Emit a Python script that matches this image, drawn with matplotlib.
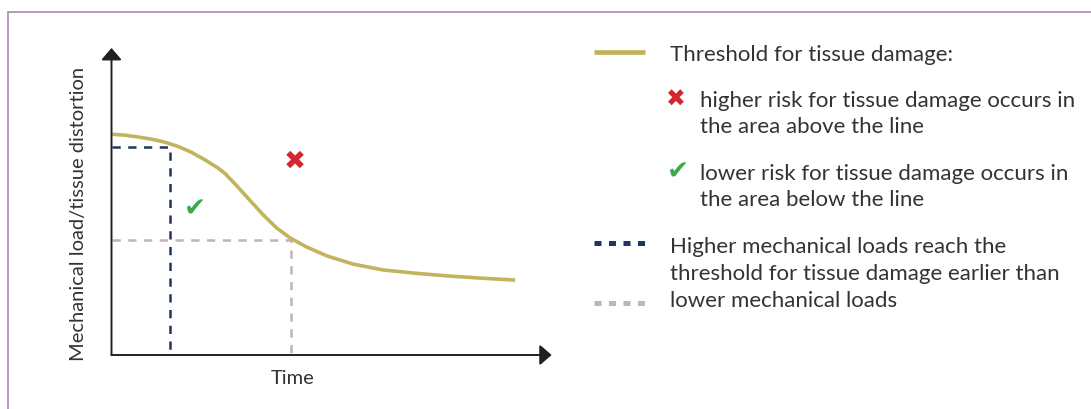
import matplotlib
matplotlib.use("Agg")
import matplotlib.pyplot as plt
from matplotlib.lines import Line2D
from matplotlib.patches import Rectangle

# threshold curve (time, load) on a 0..10 scale
curve_time = [0.02, 0.31, 0.61, 0.91, 1.22, 1.52, 1.82, 2.12, 2.43, 2.58, 2.84,
              3.15, 3.45, 3.75, 4.05, 4.43, 4.89, 5.49, 6.17, 6.93, 7.69, 8.44, 9.17]
curve_load = [7.19, 7.16, 7.10, 7.03, 6.93, 6.79, 6.60, 6.36, 6.08, 5.91, 5.52,
              5.03, 4.56, 4.14, 3.82, 3.52, 3.23, 2.96, 2.77, 2.66, 2.57, 2.50, 2.44]

# where the high / low load reach the threshold
high_load_time, high_load_value = 1.33, 6.78
low_load_time, low_load_value = 4.07, 3.74

# risk symbols in the plot area
risk_time = [4.17, 1.90]
risk_load = [6.30, 4.75]
risk_symbols = ["\u2716", "\u2714"]

gold = "#C2B45C"
navy = "#1F3566"
mauve = "#C5B0C2"
red = "#D4262E"
green = "#3DAA49"
dark = "#231F20"
txt = "#333333"
W, H = 1091, 409

plt.rcParams['font.family'] = ['Lato', 'DejaVu Sans']

fig = plt.figure(figsize=(W / 100, H / 100), dpi=100)

def fx(px):
    return px / W

def fy(py):
    return 1 - py / H

# purple frame (cut at right and bottom)
fig.patches.append(Rectangle((fx(7.5), -0.2), 1.2, fy(12.5) + 0.2, transform=fig.transFigure,
                             fill=False, edgecolor="#A78BAD", lw=1.2))

ax = fig.add_axes([fx(111.5), fy(355), fx(551.7) - fx(111.5), fy(48) - fy(355)])
ax.set_xlim(0, 10)
ax.set_ylim(0, 10)
ax.axis("off")

# axes with arrow heads
arrow = dict(arrowstyle="-|>,head_length=0.72,head_width=0.62", mutation_scale=10,
             lw=1.4, color=dark, shrinkA=0, shrinkB=0)
ax.annotate("", xy=(1, 0), xytext=(0, 0), xycoords="axes fraction", arrowprops=arrow)
ax.annotate("", xy=(0, 1), xytext=(0, 0), xycoords="axes fraction", arrowprops=arrow)

ax.plot([0, high_load_time, high_load_time], [high_load_value, high_load_value, 0],
        color=navy, lw=1.8, linestyle=(0, (3.3, 3.0)), clip_on=False)
ax.plot([0, low_load_time, low_load_time], [low_load_value, low_load_value, 0],
        color=mauve, lw=1.8, linestyle=(0, (3.3, 3.0)), clip_on=False)
ax.plot(curve_time, curve_load, color=gold, lw=2.6, solid_capstyle="butt",
        solid_joinstyle="round")

for t, l, s in zip(risk_time, risk_load, risk_symbols):
    ax.text(t, l, s, color=red if s == "\u2716" else green, fontsize=19,
            ha="center", va="center", family="DejaVu Sans")

fig.text(fx(79), fy(214), "Mechanical load/tissue distortion", rotation=90,
         ha="center", va="center", fontsize=14.5, color=txt)
fig.text(fx(293), fy(379), "Time", ha="center", va="center", fontsize=14.5, color=txt)

# legend on the right
fs = 16
ls = 1.42
fig.add_artist(Line2D([fx(594), fx(645)], [fy(52), fy(52)], color=gold, lw=3.4,
                      solid_capstyle="butt"))
fig.text(fx(670), fy(55), "Threshold for tissue damage:", ha="left", va="center",
         fontsize=fs, color=txt)

fig.text(fx(676), fy(99.5), "\u2716", color=red, ha="center", va="center", fontsize=17,
         family="DejaVu Sans")
fig.text(fx(700), fy(114), "higher risk for tissue damage occurs in\nthe area above the line",
         ha="left", va="center", fontsize=fs, color=txt, linespacing=ls)
fig.text(fx(678), fy(172.5), "\u2714", color=green, ha="center", va="center", fontsize=19,
         family="DejaVu Sans")
fig.text(fx(700), fy(187), "lower risk for tissue damage occurs in\nthe area below the line",
         ha="left", va="center", fontsize=fs, color=txt, linespacing=ls)

fig.add_artist(Line2D([fx(594), fx(645)], [fy(242.7), fy(242.7)], color=navy, lw=3.6,
                      linestyle=(0, (1.4, 1.5)), dash_capstyle="butt"))
fig.add_artist(Line2D([fx(594), fx(645)], [fy(302.7), fy(302.7)], color=mauve, lw=3.6,
                      linestyle=(0, (1.4, 1.5)), dash_capstyle="butt"))
fig.text(fx(670), fy(274),
         "Higher mechanical loads reach the\nthreshold for tissue damage earlier than\nlower mechanical loads",
         ha="left", va="center", fontsize=fs, color=txt, linespacing=ls)

fig.savefig("out.png", dpi=100)
